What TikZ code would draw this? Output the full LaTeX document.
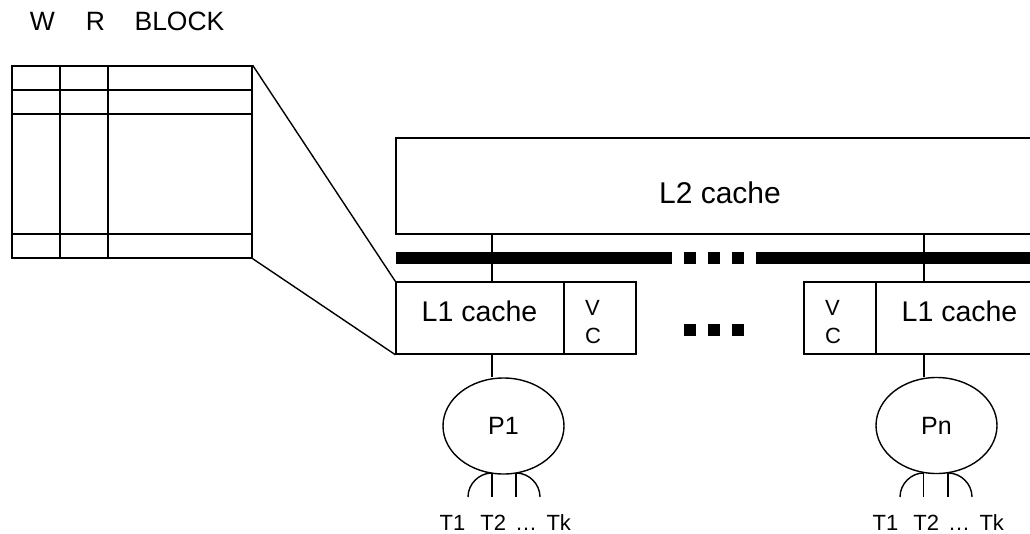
\documentclass[tikz,border=0pt]{standalone}
\usepackage{fontspec}
\setmainfont{Liberation Sans}
\usetikzlibrary{shapes.geometric}
\begin{document}
\begin{tikzpicture}[x=1pt,y=-1pt,line width=1.4pt,
  box/.style={draw,rectangle,inner sep=0pt},
  proc/.style={draw,ellipse,inner sep=0pt,minimum width=121pt,minimum height=96pt,font=\fontsize{25}{30}\selectfont},
  lbl/.style={inner sep=0pt},
  hdr/.style={inner sep=0pt,anchor=base,font=\fontsize{26.5}{30}\selectfont},
  thr/.style={inner sep=0pt,anchor=base west,font=\fontsize{22}{26}\selectfont},
  busseg/.style={line width=11.5pt},
  sq/.style={fill=black,draw=none}]
\clip (0,0) rectangle (1030,533);
\useasboundingbox (0,0) rectangle (1030,533);
% header
\node[hdr] (hw) at (42.5,30) {W};
\node[hdr] (hr) at (95.5,30) {R};
\node[hdr] (hb) at (179.5,30) {BLOCK};
% table
\node[box,minimum width=240pt,minimum height=192pt] (tab) at (132,162) {};
\draw (12,90) -- (252,90);
\draw (12,114) -- (252,114);
\draw (12,234) -- (252,234);
\draw (60,66) -- (60,258);
\draw (108,66) -- (108,258);
% L2
\node[box,minimum width=648pt,minimum height=96pt] (l2) at (720,186) {};
\node[lbl,font=\fontsize{30}{36}\selectfont] (l2t) at (720,192.5) {L2 cache};
% bus
\draw[busseg] (396,257.75) -- (672,257.75);
\draw[busseg] (756,257.75) -- (1040,257.75);
\fill[sq] (684,252) rectangle (696,264);
\fill[sq] (708,252) rectangle (720,264);
\fill[sq] (732,252) rectangle (744,264);
\fill[sq] (684,324) rectangle (696,336);
\fill[sq] (708,324) rectangle (720,336);
\fill[sq] (732,324) rectangle (744,336);
% L1 left
\node[box,minimum width=168pt,minimum height=72pt] (l1a) at (480,318) {};
\node[box,minimum width=72pt,minimum height=72pt] (vca) at (600,318) {};
\node[lbl,font=\fontsize{28.5}{34}\selectfont] (l1at) at (479.5,311.5) {L1 cache};
\node[lbl,anchor=base west,align=left,font=\fontsize{22}{28}\selectfont] (vcat) at (584.5,343) {V\\C};
% L1 right
\node[box,minimum width=72pt,minimum height=72pt] (vcb) at (840,318) {};
\node[box,minimum width=168pt,minimum height=72pt] (l1b) at (960,318) {};
\node[lbl,font=\fontsize{28.5}{34}\selectfont] (l1bt) at (959.5,311.5) {L1 cache};
\node[lbl,anchor=base west,align=left,font=\fontsize{22}{28}\selectfont] (vcbt) at (824.5,343) {V\\C};
\draw (l1b.north east) -- ++(80,0);
\draw (l1b.south east) -- ++(80,0);
% processors
\node[proc] (p1) at (503.5,426) {P1};
\node[proc] (pn) at (936.5,425.5) {Pn};
% connectors
\coordinate (ca) at (492,0);
\coordinate (cb) at (924,0);
\draw (l2.south -| ca) -- (l1a.north -| ca);
\draw (l1a.south -| ca) -- (p1.north -| ca);
\draw (l2.south -| cb) -- (l1b.north -| cb);
\draw (l1b.south -| cb) -- (pn.north -| cb);
\draw (tab.north east) -- (l1a.north west);
\draw (tab.south east) -- (l1a.south west);
% threads P1
\coordinate (a1) at (492,473);
\coordinate (a2) at (516,473);
\draw (a1) -- ++(0,24);
\draw (a2) -- ++(0,24);
\draw (468,497) .. controls (468,484) and (479,473) .. (a1);
\draw (a2) .. controls (529,473) and (540,484) .. (540,497);
\node[thr] (t1) at (439,530) {T1\hspace{15pt}T2\hspace{9pt}…\hspace{9.5pt}Tk};
% threads Pn
\coordinate (b1) at (923.5,473);
\coordinate (b2) at (948,473);
\draw (b1) -- ++(0,24);
\draw (b2) -- ++(0,24);
\draw (900,497) .. controls (900,484) and (911,473) .. (b1);
\draw (b2) .. controls (961,473) and (972,484) .. (972,497);
\node[thr] (tn) at (872,530) {T1\hspace{15pt}T2\hspace{9pt}…\hspace{9.5pt}Tk};
\end{tikzpicture}
\end{document}
